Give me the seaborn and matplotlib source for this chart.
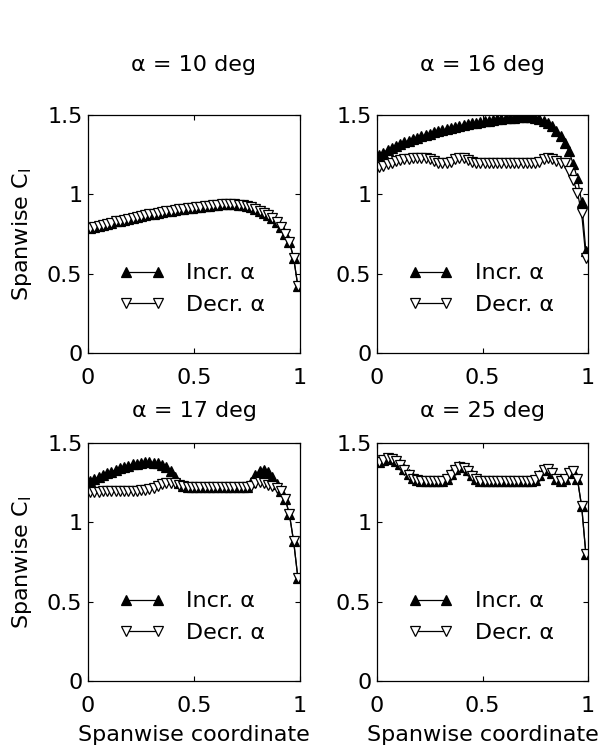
import matplotlib
matplotlib.use("Agg")
import matplotlib.pyplot as plt
import numpy as np
import pandas as pd
import seaborn as sns

# Spanwise stations (root = 0, tip = 1)
SPAN = [0.01, 0.03, 0.05, 0.07, 0.09, 0.11, 0.13, 0.15, 0.17, 0.19,
        0.21, 0.23, 0.25, 0.27, 0.29, 0.31, 0.33, 0.35, 0.37, 0.39,
        0.41, 0.43, 0.45, 0.47, 0.49, 0.51, 0.53, 0.55, 0.57, 0.59,
        0.61, 0.63, 0.65, 0.67, 0.69, 0.71, 0.73, 0.75, 0.77, 0.79,
        0.81, 0.83, 0.85, 0.87, 0.89, 0.91, 0.93, 0.95, 0.97, 0.99]

ANGLES = [10, 16, 17, 25]

CL_INCR_10 = [0.790, 0.795, 0.800, 0.808, 0.815, 0.822, 0.829, 0.835, 0.841, 0.847,
              0.853, 0.858, 0.863, 0.868, 0.873, 0.878, 0.883, 0.888, 0.893, 0.897,
              0.901, 0.905, 0.909, 0.913, 0.917, 0.920, 0.923, 0.926, 0.929, 0.932,
              0.934, 0.936, 0.937, 0.937, 0.936, 0.934, 0.930, 0.925, 0.918, 0.909,
              0.898, 0.885, 0.870, 0.852, 0.828, 0.795, 0.752, 0.700, 0.600, 0.420]
CL_DECR_10 = [0.790, 0.795, 0.800, 0.808, 0.815, 0.822, 0.829, 0.835, 0.841, 0.847,
              0.853, 0.858, 0.863, 0.868, 0.873, 0.878, 0.883, 0.888, 0.893, 0.897,
              0.901, 0.905, 0.909, 0.913, 0.917, 0.920, 0.923, 0.926, 0.929, 0.932,
              0.934, 0.936, 0.937, 0.937, 0.936, 0.934, 0.930, 0.925, 0.918, 0.909,
              0.898, 0.885, 0.870, 0.852, 0.828, 0.795, 0.752, 0.700, 0.600, 0.420]

CL_INCR_16 = [1.250, 1.262, 1.280, 1.292, 1.305, 1.318, 1.328, 1.338, 1.348, 1.357,
              1.366, 1.374, 1.382, 1.390, 1.397, 1.404, 1.411, 1.417, 1.423, 1.430,
              1.436, 1.441, 1.447, 1.452, 1.457, 1.461, 1.465, 1.469, 1.473, 1.476,
              1.479, 1.482, 1.484, 1.486, 1.487, 1.487, 1.485, 1.481, 1.474, 1.463,
              1.450, 1.430, 1.402, 1.368, 1.325, 1.272, 1.190, 1.100, 0.950, 0.640]
CL_DECR_16 = [1.170, 1.180, 1.190, 1.200, 1.208, 1.215, 1.220, 1.225, 1.230, 1.232,
              1.232, 1.228, 1.220, 1.210, 1.200, 1.195, 1.195, 1.205, 1.220, 1.230,
              1.228, 1.215, 1.205, 1.200, 1.198, 1.198, 1.198, 1.198, 1.198, 1.198,
              1.198, 1.198, 1.198, 1.198, 1.198, 1.198, 1.198, 1.198, 1.205, 1.220,
              1.232, 1.225, 1.210, 1.200, 1.195, 1.150, 1.090, 1.010, 0.880, 0.600]

CL_INCR_17 = [1.260, 1.272, 1.285, 1.298, 1.310, 1.320, 1.330, 1.340, 1.350, 1.358,
              1.365, 1.370, 1.375, 1.378, 1.379, 1.377, 1.372, 1.363, 1.348, 1.322,
              1.285, 1.250, 1.228, 1.220, 1.220, 1.220, 1.220, 1.220, 1.220, 1.220,
              1.220, 1.220, 1.220, 1.220, 1.220, 1.220, 1.220, 1.225, 1.255, 1.300,
              1.325, 1.332, 1.318, 1.285, 1.240, 1.200, 1.150, 1.050, 0.880, 0.650]
CL_DECR_17 = [1.190, 1.192, 1.194, 1.195, 1.196, 1.196, 1.196, 1.197, 1.197, 1.198,
              1.199, 1.200, 1.202, 1.205, 1.210, 1.218, 1.228, 1.240, 1.248, 1.250,
              1.245, 1.235, 1.226, 1.220, 1.220, 1.220, 1.220, 1.220, 1.220, 1.220,
              1.220, 1.220, 1.220, 1.220, 1.220, 1.220, 1.220, 1.222, 1.232, 1.245,
              1.252, 1.248, 1.238, 1.230, 1.215, 1.200, 1.150, 1.050, 0.880, 0.650]

CL_INCR_25 = [1.380, 1.395, 1.405, 1.400, 1.386, 1.365, 1.338, 1.305, 1.278, 1.265,
              1.260, 1.260, 1.260, 1.260, 1.260, 1.260, 1.272, 1.302, 1.333, 1.355,
              1.348, 1.328, 1.298, 1.272, 1.262, 1.260, 1.260, 1.260, 1.260, 1.260,
              1.260, 1.260, 1.260, 1.260, 1.260, 1.260, 1.260, 1.266, 1.297, 1.332,
              1.337, 1.312, 1.272, 1.260, 1.272, 1.312, 1.326, 1.272, 1.100, 0.800]
CL_DECR_25 = [1.380, 1.395, 1.405, 1.400, 1.385, 1.360, 1.330, 1.300, 1.275, 1.265,
              1.260, 1.260, 1.260, 1.260, 1.260, 1.260, 1.270, 1.300, 1.330, 1.350,
              1.345, 1.325, 1.295, 1.270, 1.262, 1.260, 1.260, 1.260, 1.260, 1.260,
              1.260, 1.260, 1.260, 1.260, 1.260, 1.260, 1.260, 1.265, 1.295, 1.330,
              1.335, 1.310, 1.270, 1.260, 1.270, 1.310, 1.325, 1.270, 1.100, 0.800]

X_TICKS = [0, 0.5, 1]
X_TICK_LABELS = ["0", "0.5", "1"]
Y_TICKS = [0, 0.5, 1, 1.5]
Y_TICK_LABELS = ["0", "0.5", "1", "1.5"]

INCR = {10: CL_INCR_10, 16: CL_INCR_16, 17: CL_INCR_17, 25: CL_INCR_25}
DECR = {10: CL_DECR_10, 16: CL_DECR_16, 17: CL_DECR_17, 25: CL_DECR_25}

frames = []
for a in ANGLES:
    frames.append(pd.DataFrame({"span": SPAN, "cl": INCR[a], "alpha": a, "sweep": "incr"}))
    frames.append(pd.DataFrame({"span": SPAN, "cl": DECR[a], "alpha": a, "sweep": "decr"}))
data = pd.concat(frames, ignore_index=True)

sns.set_style("ticks")
plt.rcParams.update({
    "font.family": ["DejaVu Sans"],
    "font.size": 16,
    "mathtext.fontset": "custom",
    "mathtext.rm": "DejaVu Sans",
    "mathtext.it": "DejaVu Sans",
    "axes.edgecolor": "black",
    "axes.linewidth": 0.9,
    "xtick.color": "black",
    "ytick.color": "black",
    "text.color": "black",
    "axes.labelcolor": "black",
    "xtick.direction": "in",
    "ytick.direction": "in",
    "xtick.top": True,
    "ytick.right": True,
    "xtick.bottom": True,
    "ytick.left": True,
    "xtick.major.size": 3.5,
    "ytick.major.size": 3.5,
    "xtick.major.width": 0.8,
    "ytick.major.width": 0.8,
})

fig = plt.figure(figsize=(6.13, 7.55), dpi=100)

W, H = 613.0, 755.0
col_left = [88 / W, 377 / W]
col_width = [212 / W, 211 / W]
row_bottom = [1 - 353 / H, 1 - 681 / H]
row_height = 238 / H
title_pad = [32, 18.5]

for idx, a in enumerate(ANGLES):
    r, c = divmod(idx, 2)
    ax = fig.add_axes([col_left[c], row_bottom[r], col_width[c], row_height])
    sub = data[data["alpha"] == a]
    inc = sub[sub["sweep"] == "incr"]
    dec = sub[sub["sweep"] == "decr"]
    sns.lineplot(data=inc, x="span", y="cl", ax=ax, color="black",
                 marker="^", markersize=7, markerfacecolor="black",
                 markeredgecolor="black", markeredgewidth=0.9,
                 linewidth=0.9, label="Incr. α", errorbar=None)
    sns.lineplot(data=dec, x="span", y="cl", ax=ax, color="black",
                 marker="v", markersize=7, markerfacecolor="white",
                 markeredgecolor="black", markeredgewidth=0.9,
                 linewidth=0.9, label="Decr. α", errorbar=None)
    ax.set_xlim(0, 1)
    ax.set_ylim(0, 1.5)
    ax.set_xticks(X_TICKS)
    ax.set_xticklabels(X_TICK_LABELS)
    ax.set_yticks(Y_TICKS)
    ax.set_yticklabels(Y_TICK_LABELS)
    ax.tick_params(axis="x", pad=11)
    ax.tick_params(axis="y", pad=4)
    ax.set_title(f"α = {a} deg", pad=title_pad[r], fontsize=16)
    if c == 0:
        ax.set_ylabel("Spanwise C$_\\mathrm{l}$", labelpad=9)
    else:
        ax.set_ylabel("")
    if r == 1:
        ax.set_xlabel("Spanwise coordinate", labelpad=6)
    else:
        ax.set_xlabel("")
    for side in ["top", "right", "left", "bottom"]:
        ax.spines[side].set_visible(True)
    ax.legend(loc="center left", bbox_to_anchor=(0.15, 0.269), frameon=False,
              numpoints=2, handlelength=2.0, handletextpad=1.0,
              labelspacing=0.5, borderpad=0, borderaxespad=0, fontsize=16)

fig.savefig("out.png", dpi=100)
